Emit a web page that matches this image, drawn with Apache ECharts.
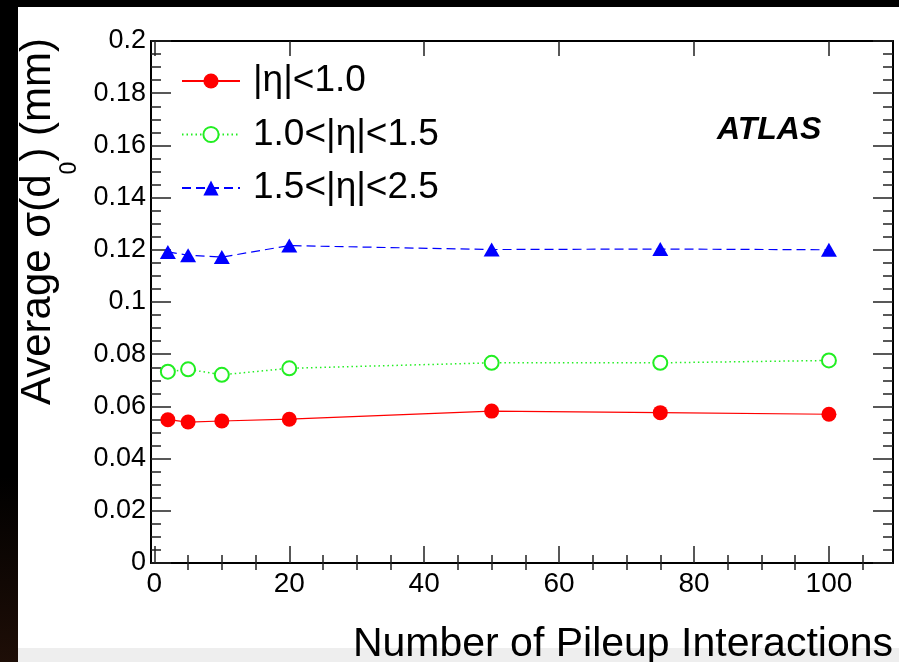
<!DOCTYPE html>
<html>
<head>
<meta charset="utf-8">
<script src="https://cdn.jsdelivr.net/npm/echarts@6/dist/echarts.min.js"></script>
<style>
html,body{margin:0;padding:0;background:#fff;}
#c{width:899px;height:662px;}
</style>
</head>
<body>
<div id="c"></div>
<script>
// ---- data ----
const pileup = [2, 5, 10, 20, 50, 75, 100];
const sigmaCentral = [0.0549, 0.0540, 0.0544, 0.0551, 0.0582, 0.0576, 0.0570];
const sigmaMid = [0.0733, 0.0742, 0.0721, 0.0746, 0.0767, 0.0767, 0.0776];
const sigmaForward = [0.1192, 0.1179, 0.1172, 0.1216, 0.1201, 0.1203, 0.1200];
const seriesNames = ['|η|<1.0', '1.0<|η|<1.5', '1.5<|η|<2.5'];
const xMajorTicks = [0, 20, 40, 60, 80, 100];
const xMinorTicks = [5, 10, 15, 25, 30, 35, 45, 50, 55, 65, 70, 75, 85, 90, 95, 105];

const FF = '"Liberation Sans", Arial, Helvetica, sans-serif';
const tickStyle = {color: '#222', width: 1.5};
const frameLine = {show: true, onZero: false, lineStyle: {color: '#000', width: 2}};

function pairs(vals) { return pileup.map((x, i) => [x, vals[i]]); }

const baseX = {type: 'value', min: -0.5, max: 109.5, splitLine: {show: false}, minorSplitLine: {show: false}};
const baseY = {type: 'value', min: 0, max: 0.2, interval: 0.02, splitLine: {show: false}, minorSplitLine: {show: false}};

const chart = echarts.init(document.getElementById('c'), null, {renderer: 'canvas'});
chart.setOption({
  animation: false,
  backgroundColor: '#fff',
  grid: {left: 151, top: 41, width: 742, height: 522, containLabel: false, outerBoundsMode: 'none'},
  xAxis: [
    Object.assign({}, baseX, {
      position: 'bottom',
      axisLine: frameLine,
      axisTick: {show: true, inside: true, length: 17, customValues: xMajorTicks, lineStyle: tickStyle},
      axisLabel: {show: true, customValues: xMajorTicks, fontSize: 28, margin: 7, color: '#000', fontFamily: FF},
      name: 'Number of Pileup Interactions',
      nameLocation: 'end',
      nameGap: 0,
      nameMoveOverlap: false,
      nameTextStyle: {fontSize: 41, fontFamily: FF, color: '#000', align: 'right', verticalAlign: 'top', padding: [61, 0, 0, 0]}
    }),
    Object.assign({}, baseX, {
      position: 'bottom',
      axisLine: {show: false},
      axisTick: {show: true, inside: true, length: 8, customValues: xMinorTicks, lineStyle: tickStyle},
      axisLabel: {show: false}
    }),
    Object.assign({}, baseX, {
      position: 'top',
      axisLine: frameLine,
      axisTick: {show: true, inside: true, length: 15, customValues: xMajorTicks, lineStyle: tickStyle},
      axisLabel: {show: false}
    }),
    Object.assign({}, baseX, {
      position: 'top',
      axisLine: {show: false},
      axisTick: {show: true, inside: true, length: 7, customValues: xMinorTicks, lineStyle: tickStyle},
      axisLabel: {show: false}
    })
  ],
  yAxis: [
    Object.assign({}, baseY, {
      position: 'left',
      axisLine: frameLine,
      axisTick: {show: true, inside: true, length: 20, lineStyle: tickStyle},
      minorTick: {show: true, splitNumber: 4, length: 10, lineStyle: tickStyle},
      axisLabel: {show: true, fontSize: 27, margin: 5, color: '#000', fontFamily: FF, padding: [8, 0, 0, 0]},
      name: '{a|Average σ(d}{s|0}{a|) (mm)}',
      nameLocation: 'end',
      nameGap: 3,
      nameRotate: 90,
      nameMoveOverlap: false,
      nameTextStyle: {
        align: 'right', verticalAlign: 'bottom', padding: [0, 0, 92, 0],
        rich: {
          a: {fontSize: 42, lineHeight: 42, verticalAlign: 'top', fontFamily: FF, color: '#000'},
          s: {fontSize: 23, lineHeight: 23, padding: [41, 0, 0, 0], verticalAlign: 'top', fontFamily: FF, color: '#000'}
        }
      }
    }),
    Object.assign({}, baseY, {
      position: 'right',
      axisLine: frameLine,
      axisTick: {show: true, inside: true, length: 20, lineStyle: tickStyle},
      minorTick: {show: true, splitNumber: 4, length: 10, lineStyle: tickStyle},
      axisLabel: {show: false}
    })
  ],
  legend: {
    orient: 'vertical', left: 181, top: 61, padding: 0, itemGap: 13.5,
    itemWidth: 58, itemHeight: 19, selectedMode: false,
    textStyle: {fontSize: 37, lineHeight: 40, fontFamily: FF, color: '#000', padding: [0, 0, 0, 8]},
    data: seriesNames
  },
  series: [
    {
      name: seriesNames[0], type: 'line', xAxisIndex: 0, yAxisIndex: 0, data: pairs(sigmaCentral),
      symbol: 'circle', symbolSize: 15,
      itemStyle: {color: '#ff0000'},
      lineStyle: {color: '#ff0000', width: 1.2, type: 'solid'}
    },
    {
      name: seriesNames[1], type: 'line', xAxisIndex: 0, yAxisIndex: 0, data: pairs(sigmaMid),
      symbol: 'emptyCircle', symbolSize: 14,
      itemStyle: {color: '#22ee22', borderColor: '#22ee22', borderWidth: 1.5},
      lineStyle: {color: '#22ee22', width: 1.5, type: [1.5, 3]}
    },
    {
      name: seriesNames[2], type: 'line', xAxisIndex: 0, yAxisIndex: 0, data: pairs(sigmaForward),
      symbol: 'triangle', symbolSize: [16, 14],
      itemStyle: {color: '#0000ff'},
      lineStyle: {color: '#0000ff', width: 1.2, type: [9, 5]}
    }
  ],
  graphic: [
    {type: 'rect', z: -10, silent: true, shape: {x: 0, y: 0, width: 899, height: 7}, style: {fill: '#000'}},
    {type: 'rect', z: -10, silent: true, shape: {x: 0, y: 0, width: 18, height: 662},
      style: {fill: new echarts.graphic.LinearGradient(0, 0, 0, 1, [
        {offset: 0, color: '#000'}, {offset: 0.72, color: '#000'}, {offset: 1, color: '#1e0e07'}])}},
    {type: 'rect', z: -10, silent: true, shape: {x: 18, y: 648, width: 881, height: 14}, style: {fill: '#eeeeee'}},
    {type: 'text', z: 10, x: 717, y: 130,
      style: {text: 'ATLAS', fontSize: 32, fontWeight: 'bold', fontStyle: 'italic', fontFamily: FF, fill: '#000', align: 'left', verticalAlign: 'middle'}}
  ]
});
</script>
</body>
</html>
